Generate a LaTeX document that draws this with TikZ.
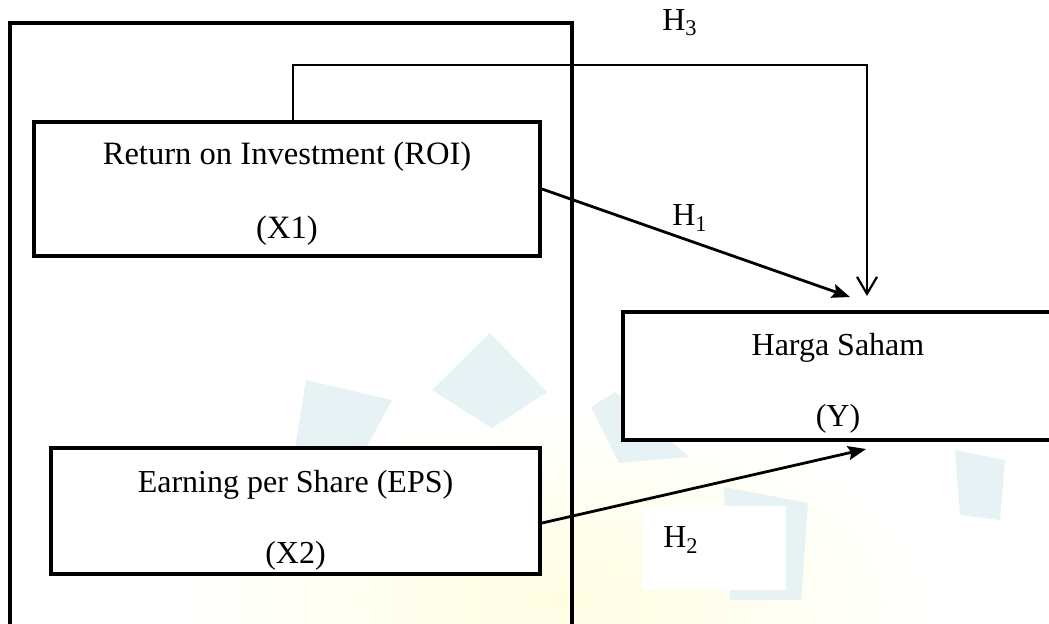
\documentclass[tikz,border=0pt]{standalone}
\usepackage{fontspec}
\setmainfont{Liberation Serif}
\usetikzlibrary{arrows.meta}
\definecolor{wmteal}{RGB}{230,242,243}
\definecolor{wmyellow}{RGB}{255,253,225}
\tikzset{
  box/.style={draw, line width=2pt, fill=white, inner sep=0pt},
  boxtext/.style={align=center, inner sep=0pt},
  frameline/.style={line width=2.2pt},
  hyparrow/.style={line width=1.4pt, -{Stealth[length=9pt,width=7pt,inset=1.5pt]}},
  hypopen/.style={line width=1.1pt, -{Straight Barb[length=8.5pt,width=10pt,line width=1.1pt]}},
  hlabel/.style={font=\fontsize{16}{19}\selectfont, inner sep=1pt},
  wm/.style={fill=wmteal, draw=none},
}
\begin{document}
\begin{tikzpicture}[x=0.5pt,y=-0.5pt]
\useasboundingbox (0,0) rectangle (1049,623);
\clip (0,0) rectangle (1049,623);
% faint watermark
\shade[inner color=wmyellow, outer color=white] (560,600) ellipse [x radius=380, y radius=190];
\fill[wm] (306,380) -- (392,400) -- (367,446) -- (295,448) -- cycle;
\fill[wm] (490,333) -- (547,392) -- (492,428) -- (432,390) -- cycle;
\fill[wm] (591,407) -- (615,392) -- (689,457) -- (619,463) -- cycle;
\fill[wm] (724,487) -- (808,503) -- (801,600) -- (730,600) -- cycle;
\fill[wm] (955,450) -- (1005,460) -- (1000,520) -- (960,515) -- cycle;
\fill[white] (642,506) rectangle (786,590);
% frame
\draw[frameline] (10,650) -- (10,23) -- (572,23) -- (572,650);
% boxes
\node[box, minimum width=253pt, minimum height=67pt,
      label={[boxtext, font=\fontsize{16.3}{37}\selectfont, yshift=-2.5pt]center:{Return on Investment (ROI)\\(X1)}}]
      (roi) at (287,189) {};
\node[box, minimum width=244.5pt, minimum height=63pt,
      label={[boxtext, font=\fontsize{16}{35.5}\selectfont, yshift=-4.5pt]center:{Earning per Share (EPS)\\(X2)}}]
      (eps) at (295.5,511) {};
\node[box, minimum width=215pt, minimum height=64pt,
      label={[boxtext, font=\fontsize{16}{35.5}\selectfont, yshift=-3.8pt]center:{Harga Saham\\(Y)}}]
      (harga) at (838,376) {};
% connector end points
\coordinate (h1tip) at (850,297);
\coordinate (h2tip) at (866,449);
\coordinate (h3turn) at (867,65);
\coordinate (h3tip) at (867,296);
% connectors
\draw[hyparrow] (roi.east) -- (h1tip);
\draw[hyparrow] ([yshift=-6pt]eps.east) -- (h2tip);
\draw[hypopen] ([xshift=3pt]roi.north) |- (h3turn) -- (h3tip);
% labels
\node[hlabel] (l3) at (680,23) {H\textsubscript{3}};
\node[hlabel] (l1) at (690,218) {H\textsubscript{1}};
\node[hlabel] (l2) at (681,540) {H\textsubscript{2}};
\end{tikzpicture}
\end{document}
